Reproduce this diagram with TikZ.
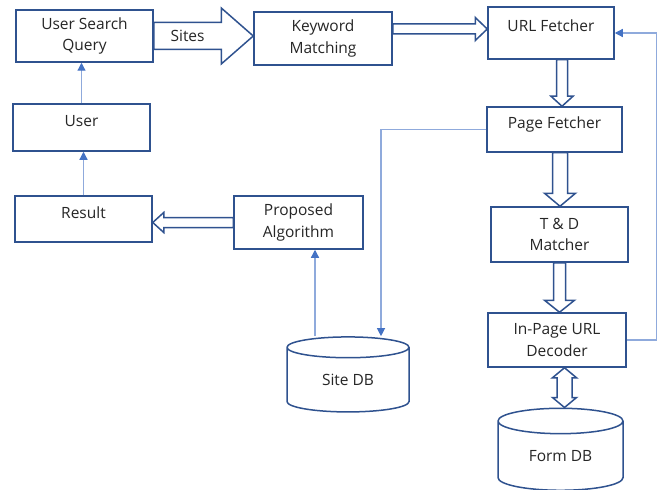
\documentclass[tikz,border=0pt]{standalone}
\usepackage{fontspec}
\setmainfont{Open Sans}
\usetikzlibrary{arrows.meta,calc,shapes.geometric}
\definecolor{boxblue}{HTML}{2F528F}
\definecolor{linkblue}{HTML}{8FAADC}
\definecolor{tipblue}{HTML}{4472C4}
\definecolor{textgray}{HTML}{262626}
\tikzset{
  box/.style={draw=boxblue, fill=white, line width=1.5pt, align=center, inner sep=2pt, text=textgray, font=\fontsize{15.5}{21.5}\selectfont},
  onebox/.style={box, text height=12pt, text depth=14pt},
  db/.style={cylinder, shape border rotate=90, aspect=0.4, draw=boxblue, fill=white, line width=1.5pt, inner sep=0pt, text=textgray, font=\fontsize{15.5}{21.5}\selectfont},
  link/.style={draw=linkblue, line width=1.2pt, -{Triangle[length=8pt,width=8pt,color=tipblue]}},
  blockline/.style={draw=boxblue, fill=white, line width=1.5pt, line join=miter},
  lbl/.style={text=textgray, font=\fontsize{15.5}{21.5}\selectfont, inner sep=0pt}
}
% hollow block arrow: from, to, shaft half width, head half width, head length
\newcommand{\blockarrow}[5]{%
  \draw[blockline] let \p1=($(#2)-(#1)$), \n1={atan2(\y1,\x1)}, \n2={veclen(\x1,\y1)} in
    [shift={(#1)}, rotate=\n1]
    (0,-#3) -- ({\n2-#5},-#3) -- ({\n2-#5},-#4) -- (\n2,0) -- ({\n2-#5},#4) -- ({\n2-#5},#3) -- (0,#3) -- cycle;}
% same, with a head at both ends
\newcommand{\dblockarrow}[5]{%
  \draw[blockline] let \p1=($(#2)-(#1)$), \n1={atan2(\y1,\x1)}, \n2={veclen(\x1,\y1)} in
    [shift={(#1)}, rotate=\n1]
    (0,0) -- (#5,-#4) -- (#5,-#3) -- ({\n2-#5},-#3) -- ({\n2-#5},-#4) -- (\n2,0) -- ({\n2-#5},#4) -- ({\n2-#5},#3) -- (#5,#3) -- (#5,#4) -- cycle;}

\begin{document}
\begin{tikzpicture}[x=1pt, y=-1pt]
\useasboundingbox (0,0) rectangle (668,489);

% left column
\node[box, minimum width=137pt, minimum height=52pt] (usq) at (84.5,36) {User Search\\Query};
\node[onebox, minimum width=137pt, minimum height=47pt] (user) at (81.5,127.5) {User};
\node[onebox, minimum width=137pt, minimum height=46pt] (result) at (83.5,219) {Result};
\node[box, minimum width=129pt, minimum height=53pt] (prop) at (298.5,222.5) {Proposed\\Algorithm};
\node[box, minimum width=138pt, minimum height=53pt] (kw) at (323,38.5) {Keyword\\Matching};

% crawler column
\node[onebox, minimum width=126pt, minimum height=52pt] (url) at (551,33) {URL Fetcher};
\node[onebox, minimum width=135pt, minimum height=45pt] (page) at (554.5,129.5) {Page Fetcher};
\node[box, minimum width=137pt, minimum height=55pt] (td) at (559.5,234.5) {T \& D\\Matcher};
\node[box, minimum width=138pt, minimum height=54pt] (ipu) at (557,340) {In-Page URL\\Decoder};

% databases
\node[db, minimum width=122pt, minimum height=75pt] (sdb) at (348,380) {Site DB};
\node[db, minimum width=125pt, minimum height=82pt] (fdb) at (560.5,456) {Form DB};

% block arrows
\blockarrow{usq.east}{usq.east -| kw.west}{13.5}{28}{32}
\node[lbl] (sites) at ($(usq.east)!0.34!(usq.east -| kw.west)$) {Sites};
\coordinate (kwout) at ($(kw.east)+(0,-9.5)$);
\blockarrow{kwout}{kwout -| url.west}{5}{11.5}{12}
\coordinate (urlout) at ($(url.south)+(11,0)$);
\blockarrow{urlout}{urlout |- page.north}{5.5}{11}{10}
\coordinate (pageout) at ($(page.south)+(5.5,0)$);
\blockarrow{pageout}{pageout |- td.north}{7.5}{15.5}{13}
\blockarrow{td.south}{td.south |- ipu.north}{6}{15}{12}
\coordinate (ipuout) at ($(ipu.south)+(7.5,0)$);
\dblockarrow{ipuout}{ipuout |- fdb.north}{7.5}{12}{10}
\blockarrow{prop.west}{prop.west -| result.east}{5}{10}{11}

% thin links
\draw[link] (user.north) -- (user.north |- usq.south);
\draw[link] (result.north) -- (result.north |- user.south);
\coordinate (sdbout) at ($(sdb.north)+(-33,0)$);
\draw[link] (sdbout) -- (sdbout |- prop.south);
\coordinate (sdbin) at ($(sdb.north)+(33,0)$);
\draw[link] (page.west) -| (sdbin);
\draw[link] (ipu.east) -- ++(30,0) |- (url.east);
\end{tikzpicture}
\end{document}
